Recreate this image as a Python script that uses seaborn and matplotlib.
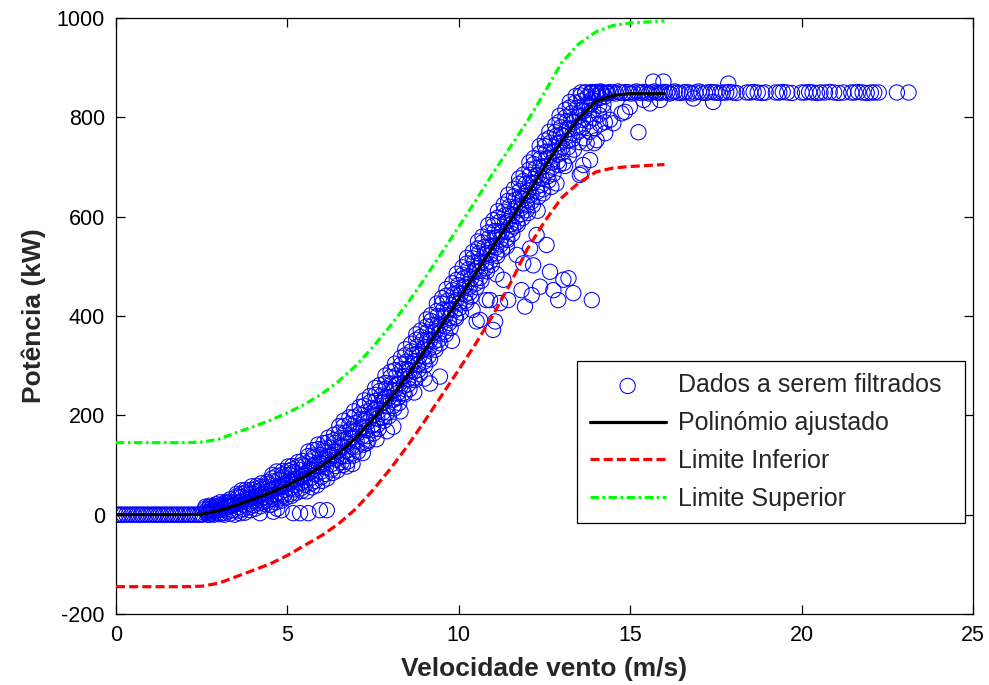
import matplotlib
matplotlib.use("Agg")
import matplotlib.pyplot as plt
import numpy as np
import pandas as pd
import seaborn as sns

# ---------------------------------------------------------------
# Measured turbine power (kW) against wind speed (m/s)
# ---------------------------------------------------------------
# Below cut-in: turbine idle
cut_in_speed = [0.00, 0.08, 0.15, 0.22, 0.30, 0.37, 0.45, 0.52, 0.60, 0.66, 0.74, 0.80,
                0.88, 0.95, 1.02, 1.10, 1.16, 1.24, 1.30, 1.38, 1.45, 1.52, 1.60, 1.66,
                1.74, 1.80, 1.88, 1.95, 2.02, 2.10, 2.16, 2.24, 2.30, 2.38, 2.45, 2.52]
cut_in_power = [0, 0, 0, 0, 0, 0, 0, 0, 0, 0, 0, 0,
                0, 0, 0, 0, 0, 0, 0, 0, 0, 0, 0, 0,
                0, 0, 0, 0, 0, 0, 0, 0, 0, 0, 0, 0]

# Partial-load region: readings logged on four sensor channels
ramp_a_speed = [2.61, 2.74, 2.92, 3.04, 3.21, 3.33, 3.52, 3.66, 3.79, 3.96, 4.11, 4.24, 4.42,
                4.56, 4.69, 4.86, 5.02, 5.14, 5.31, 5.44, 5.61, 5.76, 5.89, 6.06, 6.19, 6.36,
                6.51, 6.64, 6.81, 6.94, 7.11, 7.24, 7.41, 7.56, 7.69, 7.86, 8.01, 8.14, 8.31,
                8.44, 8.61, 8.76, 8.89, 9.06, 9.19, 9.36, 9.51, 9.64, 9.81, 9.94, 10.11, 10.24,
                10.41, 10.56, 10.69, 10.86, 11.01, 11.14, 11.31, 11.44, 11.61, 11.76, 11.89,
                12.06, 12.19, 12.36, 12.51, 12.64, 12.81, 12.94, 13.11, 13.24, 13.41, 13.56,
                13.69, 13.86, 14.01, 14.14, 14.31]
ramp_a_power = [16, 18, 21, 25, 26, 31, 42, 49, 50, 57, 58, 63, 66,
                80, 87, 88, 97, 98, 106, 108, 127, 130, 141, 144, 155, 161,
                178, 189, 196, 208, 217, 230, 239, 255, 261, 280, 288, 304, 316,
                333, 344, 363, 371, 393, 402, 425, 436, 454, 466, 485, 498, 517,
                529, 550, 560, 583, 593, 611, 624, 644, 656, 677, 685,
                709, 718, 742, 753, 771, 784, 803, 815, 831, 843, 850,
                850, 851, 850, 852, 850]
ramp_e_power = [12, 15, 17, 20, 23, 26, 37, 42, 45, 50, 53, 56, 61,
                73, 78, 81, 88, 91, 97, 101, 118, 119, 132, 133, 146, 150,
                165, 178, 182, 196, 202, 219, 226, 241, 249, 265, 277, 291, 302,
                321, 329, 352, 358, 379, 390, 410, 425, 441, 452, 473, 483, 506,
                516, 536, 548, 568, 582, 598, 610, 632, 641, 666, 672,
                695, 706, 727, 742, 758, 770, 791, 800, 820, 830, 844,
                850, 849, 851, 850, 848]

ramp_b_speed = [2.64, 2.78, 2.95, 3.08, 3.25, 3.38, 3.55, 3.68, 3.85, 3.98, 4.15, 4.28, 4.45,
                4.58, 4.75, 4.88, 5.05, 5.18, 5.35, 5.48, 5.65, 5.78, 5.95, 6.08, 6.25, 6.38,
                6.55, 6.68, 6.85, 6.98, 7.15, 7.28, 7.45, 7.58, 7.75, 7.88, 8.05, 8.18, 8.35,
                8.48, 8.65, 8.78, 8.95, 9.08, 9.25, 9.38, 9.55, 9.68, 9.85, 9.98, 10.15, 10.28,
                10.45, 10.58, 10.75, 10.88, 11.05, 11.18, 11.35, 11.48, 11.65, 11.78, 11.95,
                12.08, 12.25, 12.38, 12.55, 12.68, 12.85, 12.98, 13.15, 13.28, 13.45, 13.58,
                13.75, 13.88, 14.05, 14.18]
ramp_b_power = [9, 12, 15, 16, 20, 23, 34, 36, 41, 43, 47, 52, 55,
                67, 70, 76, 80, 86, 90, 97, 107, 115, 120, 128, 135, 144,
                154, 165, 172, 184, 193, 206, 215, 229, 240, 254, 264, 280, 293,
                308, 321, 338, 351, 368, 382, 400, 413, 431, 444, 462, 476, 494,
                508, 526, 539, 557, 571, 589, 603, 620, 634, 652, 666,
                684, 698, 717, 731, 749, 763, 780, 792, 808, 819, 833,
                841, 849, 851, 850]
ramp_f_power = [5, 8, 10, 13, 16, 18, 24, 28, 31, 35, 38, 42, 47,
                52, 57, 61, 67, 71, 77, 82, 92, 98, 105, 111, 120, 127,
                138, 151, 154, 169, 176, 192, 197, 213, 225, 237, 250, 262, 277,
                293, 304, 324, 333, 352, 367, 383, 399, 413, 428, 447, 459, 480,
                490, 510, 524, 540, 557, 571, 587, 605, 617, 638, 648,
                668, 683, 700, 717, 731, 747, 765, 775, 794, 801, 815,
                826, 836, 844, 848]

ramp_c_speed = [2.68, 2.82, 2.99, 3.12, 3.29, 3.42, 3.59, 3.72, 3.89, 4.02, 4.19, 4.32, 4.49,
                4.62, 4.79, 4.92, 5.09, 5.22, 5.39, 5.52, 5.69, 5.82, 5.99, 6.12, 6.29, 6.42,
                6.59, 6.72, 6.89, 7.02, 7.19, 7.32, 7.49, 7.62, 7.79, 7.92, 8.09, 8.22, 8.39,
                8.52, 8.69, 8.82, 8.99, 9.12, 9.29, 9.42, 9.59, 9.72, 9.89, 10.02, 10.19, 10.32,
                10.49, 10.62, 10.79, 10.92, 11.09, 11.22, 11.39, 11.52, 11.69, 11.82, 11.99,
                12.12, 12.29, 12.42, 12.59, 12.72, 12.89, 13.02, 13.19, 13.32, 13.49, 13.62,
                13.79, 13.92, 14.09, 14.22]
ramp_c_power = [3, 7, 9, 10, 16, 18, 15, 20, 22, 28, 30, 35, 38,
                40, 44, 50, 53, 60, 64, 69, 74, 81, 87, 95, 102, 111,
                118, 128, 137, 148, 158, 170, 181, 194, 206, 219, 231, 245, 259,
                273, 288, 303, 318, 333, 349, 365, 380, 396, 412, 427, 443, 459,
                475, 491, 507, 523, 538, 554, 570, 585, 601, 617, 633,
                644, 661, 677, 693, 709, 725, 740, 753, 768, 781, 795,
                806, 815, 823, 826]
ramp_g_power = [0, 2, 4, 3, 7, 9, 8, 11, 15, 19, 23, 26, 31,
                31, 33, 41, 42, 51, 53, 60, 63, 68, 76, 82, 91, 98,
                106, 118, 123, 137, 145, 158, 171, 180, 195, 206, 219, 235, 245,
                262, 275, 291, 308, 319, 338, 352, 368, 386, 398, 416, 430, 447,
                465, 477, 496, 510, 526, 544, 556, 574, 588, 605, 623,
                630, 650, 664, 681, 699, 711, 729, 740, 756, 771, 780,
                792, 798, 805, 812]

ramp_d_speed = [2.72, 2.86, 3.02, 3.16, 3.32, 3.46, 3.62, 3.76, 3.92, 4.06, 4.22, 4.36, 4.52,
                4.66, 4.82, 4.96, 5.12, 5.26, 5.42, 5.56, 5.72, 5.86, 6.02, 6.16, 6.32, 6.46,
                6.62, 6.76, 6.92, 7.06, 7.22, 7.36, 7.52, 7.66, 7.82, 7.96, 8.12, 8.26, 8.42,
                8.56, 8.72, 8.86, 9.02, 9.16, 9.32, 9.46, 9.62, 9.76, 9.92, 10.06, 10.22, 10.36,
                10.52, 10.66, 10.82, 10.96, 11.12, 11.26, 11.42, 11.56, 11.72, 11.86, 12.02,
                12.16, 12.32, 12.46, 12.62, 12.76, 12.92, 13.06, 13.22, 13.36, 13.52, 13.66,
                13.82, 13.96, 14.12, 14.26]
ramp_d_power = [0, 0, 1, 0, 2, 0, 3, 4, 9, 12, 17, 21, 20,
                25, 28, 34, 38, 44, 48, 47, 55, 59, 68, 73, 84, 89,
                100, 107, 119, 127, 141, 149, 164, 173, 189, 198, 214, 225, 242,
                253, 271, 283, 301, 313, 332, 345, 363, 376, 395, 407, 426, 439,
                458, 471, 490, 503, 521, 534, 553, 565, 584, 597, 607,
                623, 640, 655, 673, 686, 704, 708, 723, 735, 750, 758,
                771, 778, 786, 790]
ramp_h_power = [6, 8, 10, 13, 17, 20, 25, 26, 32, 34, 40, 41, 47,
                53, 56, 62, 66, 72, 76, 84, 89, 97, 102, 111, 118, 127,
                137, 143, 157, 164, 177, 187, 201, 209, 227, 235, 250, 263, 279,
                289, 309, 320, 337, 351, 369, 381, 401, 413, 431, 445, 463, 475,
                496, 508, 526, 541, 558, 570, 591, 602, 620, 635, 652,
                668, 684, 701, 718, 731, 748, 762, 776, 790, 803, 813,
                824, 833, 839, 842]

# Scattered readings below the main cloud
scatter_low_speed = [4.20, 4.59, 4.83, 5.17, 5.37, 5.61, 5.95, 6.15, 4.50, 4.70,
                     6.73, 7.31, 7.90, 8.09, 9.16, 9.45,
                     10.52, 10.62, 10.81, 10.91, 11.00, 11.06, 11.20, 11.30, 11.40, 11.44,
                     11.59, 11.69, 11.83, 11.88, 11.93, 11.98, 12.08, 12.13, 12.17, 12.27,
                     12.37, 12.46, 12.56, 12.66, 12.76, 12.85, 12.90, 13.05, 13.20, 13.34,
                     13.53, 13.58, 13.63, 13.73, 13.83, 13.88,
                     6.90, 7.20, 7.60, 8.30, 8.70, 9.00, 9.80, 10.40, 11.10, 12.30, 12.70,
                     13.10, 13.95]
scatter_low_power = [3, 6, 9, 3, 3, 3, 9, 9, 20, 12,
                     97, 144, 168, 177, 264, 278,
                     389, 392, 432, 432, 372, 389, 426, 473, 540, 432,
                     580, 523, 452, 506, 419, 613, 536, 442, 502, 563,
                     459, 647, 543, 489, 452, 667, 432, 473, 476, 446,
                     684, 687, 704, 748, 714, 432,
                     102, 124, 152, 208, 246, 274, 350, 412, 484, 612, 660,
                     702, 748]

# Rated-power region
rated_speed = [14.35, 14.42, 14.50, 14.58, 14.65, 14.72, 14.80, 14.88, 14.95, 15.02, 15.10,
               15.18, 15.25, 15.32, 15.40, 15.48, 15.55, 15.62, 15.70, 15.78, 15.85, 15.92,
               16.00, 16.08, 16.15, 16.22, 16.30, 16.38, 16.45, 16.55, 16.62, 16.72, 16.80,
               16.90, 17.00, 17.08, 17.18, 17.25, 17.35, 17.45, 17.52, 17.62, 17.70, 17.80,
               17.90, 18.00, 18.10, 18.40, 18.50, 18.60, 18.72, 18.85, 18.95, 19.25, 19.35,
               19.45, 19.58, 19.72, 20.00, 20.10, 20.22, 20.32, 20.45, 20.55, 20.68, 20.82,
               20.95, 21.08, 21.22, 21.45, 21.55, 21.65, 21.78, 21.90, 22.02, 22.12, 22.25,
               22.78, 23.12]
rated_power = [849, 851, 850, 848, 852, 850, 849, 851, 850, 848, 850,
               852, 850, 849, 851, 850, 848, 850, 852, 850, 849, 850,
               851, 850, 848, 850, 852, 850, 849, 850, 851, 850, 848,
               850, 852, 850, 849, 850, 851, 850, 850, 849, 850, 850,
               851, 850, 849, 850, 850, 851, 850, 849, 850, 850, 850,
               851, 850, 849, 850, 850, 851, 850, 849, 850, 850, 851,
               850, 849, 850, 850, 850, 851, 850, 849, 850, 850, 850,
               850, 850]

# Readings around the knee and off the rated line
knee_speed = [14.02, 14.27, 14.41, 14.51, 14.75, 14.85, 14.99, 15.24, 15.39, 15.58, 15.87,
              16.84, 17.42, 15.67, 15.97, 17.86]
knee_power = [754, 768, 795, 788, 808, 811, 821, 770, 835, 828, 835,
              838, 831, 872, 872, 868]

# ---------------------------------------------------------------
# Fitted power curve and acceptance limits
# ---------------------------------------------------------------
curve_speed = [0.0, 0.5, 1.0, 1.5, 2.0, 2.5, 3.0, 3.5, 4.0, 4.5, 5.0, 5.5, 6.0, 6.5, 7.0,
               7.5, 8.0, 8.5, 9.0, 9.5, 10.0, 10.5, 11.0, 11.5, 12.0, 12.5, 13.0, 13.5,
               14.0, 14.5, 15.0, 15.5, 16.0]
fit_power = [0, 0, 0, 0, 0, 1, 8, 19, 31, 44, 59, 77, 98, 124, 155,
             193, 234, 280, 330, 382, 434, 487, 540, 592, 645, 700, 752, 798,
             832, 844, 848, 848, 848]
lower_limit = [-145, -145, -145, -145, -145, -144, -138, -125, -112, -99, -82, -62, -42, -18, 12,
               50, 92, 138, 188, 240, 292, 345, 402, 465, 535, 590, 638, 668,
               690, 698, 701, 703, 705]
upper_limit = [145, 145, 145, 145, 145, 146, 152, 165, 177, 190, 205, 222, 243, 269, 300,
               338, 380, 425, 475, 527, 580, 633, 688, 740, 792, 850, 910, 948,
               972, 985, 990, 992, 994]

points = pd.DataFrame({
    "speed": (cut_in_speed
              + ramp_a_speed + ramp_a_speed + ramp_b_speed + ramp_b_speed
              + ramp_c_speed + ramp_c_speed + ramp_d_speed + ramp_d_speed
              + scatter_low_speed + rated_speed + knee_speed),
    "power": (cut_in_power
              + ramp_a_power + ramp_e_power + ramp_b_power + ramp_f_power
              + ramp_c_power + ramp_g_power + ramp_d_power + ramp_h_power
              + scatter_low_power + rated_power + knee_power),
})
curves = pd.DataFrame({"speed": curve_speed, "fit": fit_power,
                       "lower": lower_limit, "upper": upper_limit})

# ---------------------------------------------------------------
# Style
# ---------------------------------------------------------------
sns.set_theme(style="white")
plt.rcParams["font.family"] = ["Liberation Sans", "DejaVu Sans"]
plt.rcParams["lines.scale_dashes"] = False
plt.rcParams["axes.unicode_minus"] = False

fig = plt.figure(figsize=(9.89, 6.85), dpi=100)
ax = fig.add_axes([116 / 989, 71 / 685, 857 / 989, 596 / 685])

sns.scatterplot(data=points, x="speed", y="power", ax=ax, marker="o",
                s=11.0 ** 2, color=(0, 0, 1), facecolor="none",
                edgecolor=(0, 0, 1), linewidth=0.75,
                label="Dados a serem filtrados", zorder=2)
ax.collections[-1].set_facecolor("none")

sns.lineplot(data=curves, x="speed", y="fit", ax=ax, color="black",
             linewidth=2.3, estimator=None, sort=False,
             label="Polinómio ajustado", zorder=3)
sns.lineplot(data=curves, x="speed", y="lower", ax=ax, color=(1, 0, 0),
             linewidth=2.3, estimator=None, sort=False,
             label="Limite Inferior", zorder=3)
ax.lines[-1].set_dashes([6.5, 3.0])
sns.lineplot(data=curves, x="speed", y="upper", ax=ax, color=(0, 1, 0),
             linewidth=2.3, estimator=None, sort=False,
             label="Limite Superior", zorder=3)
ax.lines[-1].set_dashes([6.0, 2.6, 1.8, 2.6])

ax.set_xlim(0, 25)
ax.set_ylim(-200, 1000)
ax.set_xticks([0, 5, 10, 15, 20, 25])
ax.set_yticks([-200, 0, 200, 400, 600, 800, 1000])

for side in ["left", "right", "top", "bottom"]:
    ax.spines[side].set_visible(True)
    ax.spines[side].set_color("black")
    ax.spines[side].set_linewidth(0.9)

ax.tick_params(axis="both", which="both", direction="in", length=6.2, width=0.9,
               top=True, right=True, bottom=True, left=True,
               labelsize=15.5, colors="black", pad=8)

ax.set_xlabel("Velocidade vento (m/s)", fontsize=19, fontweight="bold", labelpad=8)
ax.set_ylabel("Potência (kW)", fontsize=19, fontweight="bold", labelpad=8)

# Legend box spans the lower-right block of the axes
leg = ax.legend(loc="upper left",
                bbox_to_anchor=(461 / 857, 96 / 596, 388 / 857, 157 / 596),
                mode="expand", borderaxespad=0.0, fontsize=18, frameon=True,
                fancybox=False, edgecolor="black", framealpha=1.0, borderpad=0.5,
                labelspacing=0.55, handlelength=3.05, handletextpad=0.5,
                scatterpoints=1)
leg.get_frame().set_linewidth(0.9)

fig.savefig("out.png", dpi=100, facecolor="white")
